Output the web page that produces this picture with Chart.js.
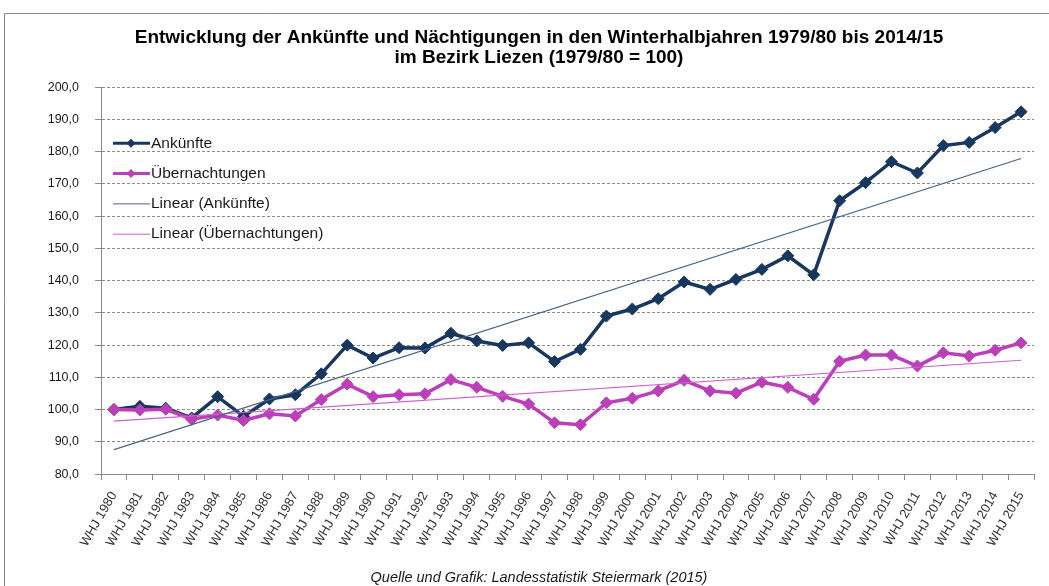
<!DOCTYPE html>
<html lang="de">
<head>
<meta charset="utf-8">
<title>Ankünfte und Nächtigungen Bezirk Liezen</title>
<script src="https://cdn.jsdelivr.net/npm/chart.js@4.4.1/dist/chart.umd.min.js"></script>
<style>
  html, body { margin: 0; padding: 0; background: #fff; }
  #wrap { width: 1049px; height: 586px; }
</style>
</head>
<body>
<div id="wrap"><canvas id="liezen-chart" width="1049" height="586"></canvas></div>
<script>
// Winterhalbjahre, Index 1979/80 = 100
const years = ['WHJ 1980', 'WHJ 1981', 'WHJ 1982', 'WHJ 1983', 'WHJ 1984', 'WHJ 1985', 'WHJ 1986', 'WHJ 1987', 'WHJ 1988',
    'WHJ 1989', 'WHJ 1990', 'WHJ 1991', 'WHJ 1992', 'WHJ 1993', 'WHJ 1994', 'WHJ 1995', 'WHJ 1996', 'WHJ 1997', 'WHJ 1998',
    'WHJ 1999', 'WHJ 2000', 'WHJ 2001', 'WHJ 2002', 'WHJ 2003', 'WHJ 2004', 'WHJ 2005', 'WHJ 2006', 'WHJ 2007', 'WHJ 2008',
    'WHJ 2009', 'WHJ 2010', 'WHJ 2011', 'WHJ 2012', 'WHJ 2013', 'WHJ 2014', 'WHJ 2015'];

const ankuenfte = [100.0, 101.0, 100.4, 97.4, 104.0, 97.9, 103.3, 104.6, 111.1, 120.0, 116.0, 119.2, 119.1, 123.7, 121.3, 119.9,
    120.7, 114.9, 118.7, 129.0, 131.2, 134.4, 139.6, 137.3, 140.4, 143.5, 147.7, 141.8, 164.8, 170.4, 176.9, 173.4, 181.9,
    182.9, 187.5, 192.4];

const uebernachtungen = [100.0, 99.9, 100.1, 97.0, 98.3, 96.6, 98.7, 98.0, 103.1, 107.9, 104.0, 104.6, 104.9, 109.3, 106.9,
    104.1, 101.7, 95.9, 95.3, 102.1, 103.5, 105.8, 109.1, 105.8, 105.1, 108.5, 106.9, 103.2, 115.0, 116.9, 116.9, 113.5,
    117.6, 116.6, 118.4, 120.7];

// Linear trend lines: values read at first and last winter season
const trendAnkuenfte = [87.6, 177.9];
const trendUebernachtungen = [96.4, 115.3];

const yMin = 80;
const yMax = 200;
const yStep = 10;

const navy = '#18375f';
const magenta = '#bb3fb8';

function trendData(ends) {
    const last = years.length - 1;
    return years.map((y, i) => (i === 0 ? ends[0] : (i === last ? ends[1] : null)));
}

const fontFamily = '"Liberation Sans", Arial, sans-serif';

// white background + grey frame of the chart object
const frame = {
    id: 'frame',
    beforeDraw(chart) {
        const ctx = chart.ctx;
        ctx.save();
        ctx.fillStyle = '#fff';
        ctx.fillRect(0, 0, chart.width, chart.height);
        ctx.strokeStyle = '#8a8a8a';
        ctx.lineWidth = 1;
        ctx.beginPath();
        ctx.moveTo(4.5, chart.height);
        ctx.lineTo(4.5, 13.5);
        ctx.lineTo(chart.width, 13.5);
        ctx.stroke();
        ctx.restore();
    }
};

// legend drawn inside the plot area, top left
const insideLegend = {
    id: 'insideLegend',
    afterDatasetsDraw(chart) {
        const ctx = chart.ctx;
        const x = chart.chartArea.left + 12;
        ctx.save();
        ctx.font = '15.5px ' + fontFamily;
        ctx.textBaseline = 'middle';
        chart.data.datasets.forEach((ds, i) => {
            const y = chart.chartArea.top + 56 + i * 30.3;
            ctx.strokeStyle = ds.borderColor;
            ctx.lineWidth = ds.pointRadius > 0 ? 3 : 1;
            ctx.beginPath();
            ctx.moveTo(x, y);
            ctx.lineTo(x + 37, y);
            ctx.stroke();
            if (ds.pointRadius > 0) {
                const cx = x + 18, r = 4.5;
                ctx.fillStyle = ds.borderColor;
                ctx.beginPath();
                ctx.moveTo(cx, y - r);
                ctx.lineTo(cx + r, y);
                ctx.lineTo(cx, y + r);
                ctx.lineTo(cx - r, y);
                ctx.closePath();
                ctx.fill();
            }
            ctx.fillStyle = '#1a1a1a';
            ctx.fillText(ds.label, x + 38, y);
        });
        ctx.restore();
    }
};

const ctx = document.getElementById('liezen-chart').getContext('2d');

const liezen = new Chart(ctx, {
    type: 'line',
    data: {
        labels: years,
        datasets: [{
            label: 'Ankünfte',
            data: ankuenfte,
            borderColor: navy,
            backgroundColor: navy,
            borderWidth: 3.5,
            pointStyle: 'rectRot',
            pointRadius: 6,
            pointBorderWidth: 1,
            tension: 0,
            order: 2
        }, {
            label: 'Übernachtungen',
            data: uebernachtungen,
            borderColor: magenta,
            backgroundColor: magenta,
            borderWidth: 3.5,
            pointStyle: 'rectRot',
            pointRadius: 6,
            pointBorderWidth: 1,
            tension: 0,
            order: 1
        }, {
            label: 'Linear (Ankünfte)',
            data: trendData(trendAnkuenfte),
            borderColor: '#4a6388',
            borderWidth: 1.2,
            pointRadius: 0,
            spanGaps: true,
            order: 0
        }, {
            label: 'Linear (Übernachtungen)',
            data: trendData(trendUebernachtungen),
            borderColor: '#cf5fcc',
            borderWidth: 1.2,
            pointRadius: 0,
            spanGaps: true,
            order: 0
        }]
    },
    options: {
        responsive: false,
        animation: false,
        devicePixelRatio: 1,
        layout: {
            padding: { left: 44, right: 15, top: 0, bottom: 0 }
        },
        plugins: {
            legend: { display: false },
            tooltip: { enabled: false },
            title: {
                display: true,
                text: ['Entwicklung der Ankünfte und Nächtigungen in den Winterhalbjahren 1979/80 bis 2014/15',
                    'im Bezirk Liezen (1979/80 = 100)'],
                color: '#000',
                font: { family: fontFamily, size: 19, weight: 'bold', lineHeight: 1.06 },
                padding: { top: 28, bottom: 19 }
            },
            subtitle: {
                display: true,
                position: 'bottom',
                text: 'Quelle und Grafik: Landesstatistik Steiermark (2015)',
                color: '#1a1a1a',
                font: { family: fontFamily, size: 14.5, style: 'italic', lineHeight: 1.1 },
                padding: { top: 0, bottom: 0 }
            }
        },
        scales: {
            x: {
                offset: true,
                afterFit(scale) { scale.height = 96; },
                grid: {
                    display: true,
                    offset: true,
                    drawOnChartArea: false,
                    drawTicks: true,
                    tickLength: 6,
                    tickColor: '#8a8a8a'
                },
                border: { display: true, color: '#8a8a8a', width: 1 },
                ticks: {
                    autoSkip: false,
                    minRotation: 60,
                    maxRotation: 60,
                    padding: 9,
                    color: '#333',
                    font: { family: fontFamily, size: 13 }
                }
            },
            y: {
                min: yMin,
                max: yMax,
                afterFit(scale) { scale.width = 57; },
                grid: {
                    color: '#8c8c8c',
                    lineWidth: 1,
                    drawTicks: true,
                    tickLength: 6,
                    tickColor: '#8a8a8a'
                },
                border: { display: true, color: '#8a8a8a', width: 1, dash: [3, 2] },
                ticks: {
                    stepSize: yStep,
                    padding: 16,
                    color: '#1a1a1a',
                    font: { family: fontFamily, size: 12.5 },
                    callback: (v) => v.toFixed(1).replace('.', ',')
                }
            }
        }
    },
    plugins: [frame, insideLegend]
});
</script>
</body>
</html>
